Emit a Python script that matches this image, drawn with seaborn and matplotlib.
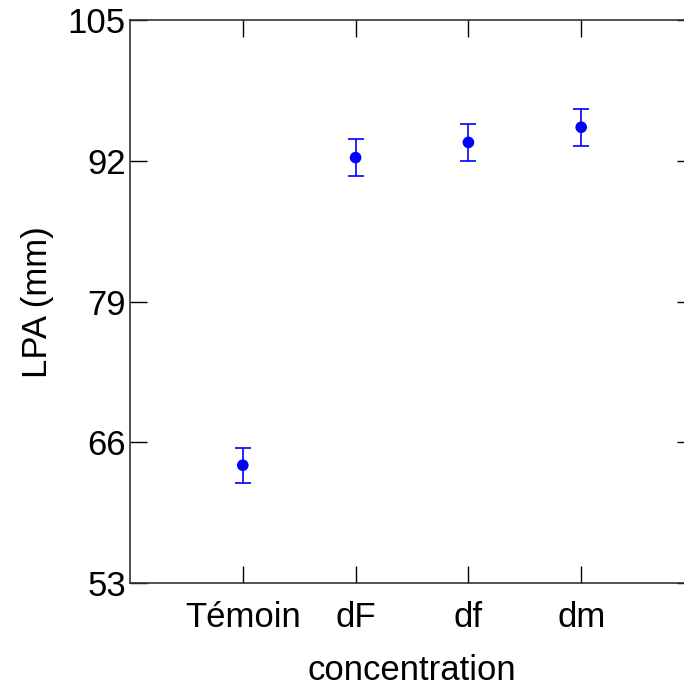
import pandas as pd
import matplotlib
matplotlib.use("Agg")
import matplotlib.pyplot as plt
import seaborn as sns

# values
concentration = ["Témoin", "dF", "df", "dm"]
lpa_mean = [63.9, 92.3, 93.7, 95.1]
lpa_err = [1.6, 1.7, 1.7, 1.7]
y_ticks = [53, 66, 79, 92, 105]

df = pd.DataFrame({"concentration": concentration, "LPA": lpa_mean, "err": lpa_err})

sns.set_style("white")
plt.rcParams["font.family"] = ["Liberation Sans", "DejaVu Sans"]
plt.rcParams["text.color"] = "black"
plt.rcParams["axes.labelcolor"] = "black"
plt.rcParams["xtick.color"] = "black"
plt.rcParams["ytick.color"] = "black"

fig = plt.figure(figsize=(6.84, 6.88), dpi=100)
ax = fig.add_axes([130 / 684, 1 - 583.3 / 688, 564 / 684, 563.3 / 688])

# error bars first, then the dots on top
ax.errorbar(df.index, df["LPA"], yerr=df["err"], fmt="none", ecolor="#0000ff",
            elinewidth=1.2, capsize=5.5, capthick=1.2, zorder=2)
sns.scatterplot(data=df, x="concentration", y="LPA", color="#0000ff", s=70,
                edgecolor="none", ax=ax, zorder=3)

ax.set_xlim(-1, 4)
ax.set_ylim(53, 105)
ax.set_yticks(y_ticks)
ax.set_xticks(range(len(concentration)))
ax.set_xticklabels(concentration)

ax.tick_params(axis="both", direction="in", length=12, width=1, colors="black",
               labelsize=25, top=True, right=True, left=True, bottom=True)
ax.tick_params(axis="y", pad=3)
ax.tick_params(axis="x", pad=13)
for sp in ax.spines.values():
    sp.set_color("#333333")
    sp.set_linewidth(1.2)

ax.set_xlabel("concentration", fontsize=25, labelpad=14)
ax.set_ylabel("LPA (mm)", fontsize=25, labelpad=10)

fig.savefig("out.png", dpi=100)
